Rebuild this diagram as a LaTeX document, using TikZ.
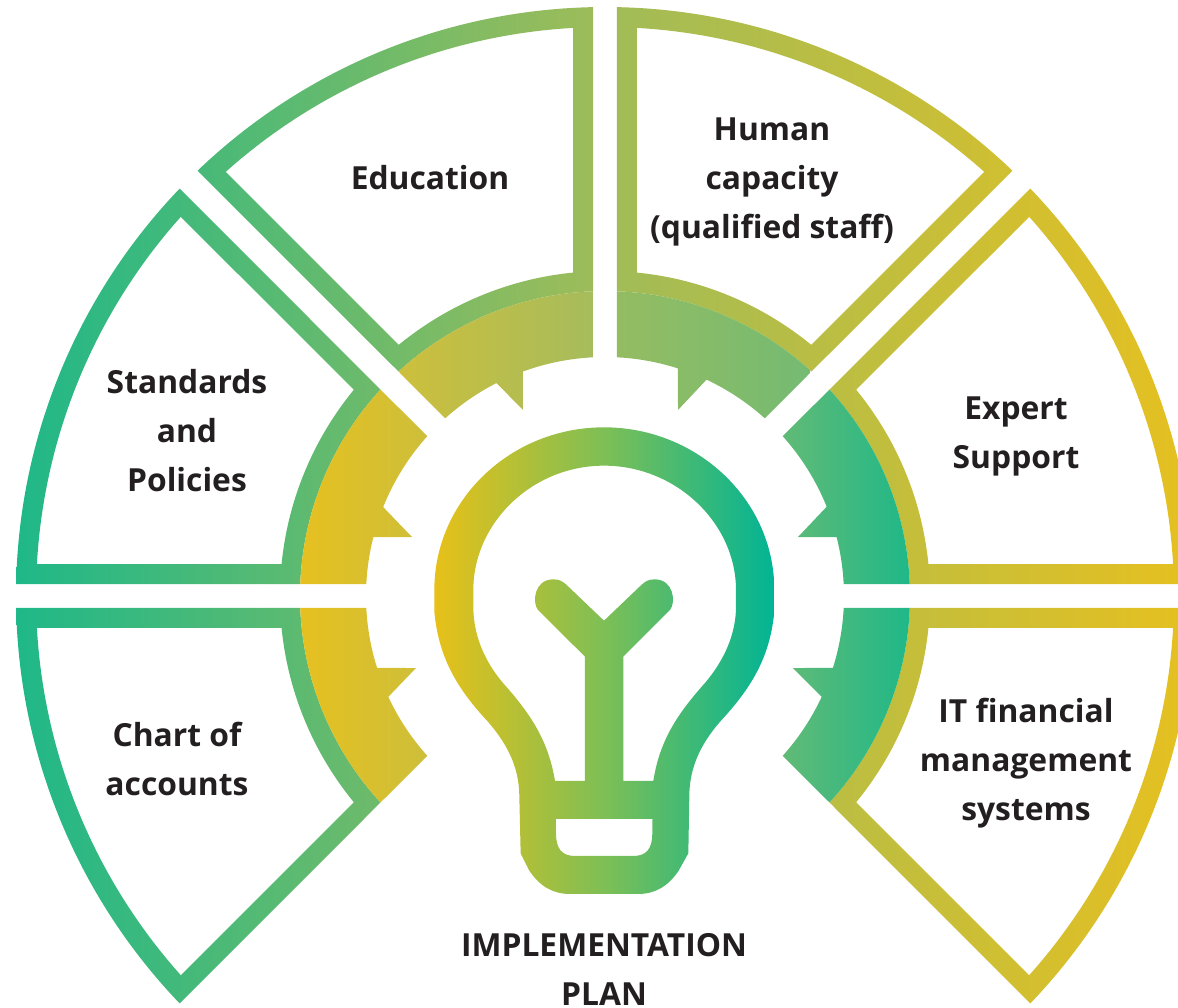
\documentclass[tikz,border=0pt]{standalone}
\usepackage{fontspec}
\setmainfont{Open Sans}
\definecolor{ink}{HTML}{231F20}
\definecolor{frameL}{HTML}{1FB888}
\definecolor{frameM}{HTML}{A0BC58}
\definecolor{frameR}{HTML}{E6C020}
\definecolor{wY}{HTML}{E6C020}
\definecolor{wA}{HTML}{CDBF3A}
\definecolor{wB}{HTML}{CDBF3C}
\definecolor{wC}{HTML}{A6BC5C}
\definecolor{wD}{HTML}{94BC62}
\definecolor{wE}{HTML}{74BB72}
\definecolor{wF}{HTML}{62BA76}
\definecolor{wG}{HTML}{1FB888}
\definecolor{bulbL}{HTML}{E8C018}
\definecolor{bulbM}{HTML}{7DBF56}
\definecolor{bulbR}{HTML}{00B496}
\tikzset{
  mirrordiag/.style={cm={0,1,1,0,(0,0)}},
  lbl/.style={font=\fontsize{31.8}{49}\selectfont\bfseries, text=ink, align=center, inner sep=0pt}
}
% one outlined sector: #1 = transform of the base sector beside the +x axis
\newcommand{\frameblock}[1]{%
  \begin{scope}[even odd rule]
    \pgfmathsetmacro\aa{asin(12/589)}
    \pgfmathsetmacro\ab{45-asin(18/(589*1.41421))}
    \pgfmathsetmacro\ac{45-asin(18/(305*1.41421))}
    \pgfmathsetmacro\ad{asin(12/305)}
    \pgfmathsetmacro\ba{asin(32/569)}
    \pgfmathsetmacro\bb{45-asin(45/(569*1.41421))}
    \pgfmathsetmacro\bc{45-asin(45/(325*1.41421))}
    \pgfmathsetmacro\bd{asin(32/325)}
    \clip[#1]
      (\aa:589) arc[start angle=\aa,end angle=\ab,radius=589]
      -- (\ac:305) arc[start angle=\ac,end angle=\ad,radius=305] -- cycle
      (\ba:569) arc[start angle=\ba,end angle=\bb,radius=569]
      -- (\bc:325) arc[start angle=\bc,end angle=\bd,radius=325] -- cycle;
    \shade[left color=frameL,right color=frameR,middle color=frameM]
      (-589,-420) rectangle (589,600);
  \end{scope}}
% gear piece: #1 transform, #2 tooth offset, #3 tip, #4/#5 notch start, #6/#7 x range, #8/#9 colours
\newcommand{\gearblock}[9]{%
  \begin{scope}
    \pgfmathsetmacro\aa{asin(12/305)}
    \pgfmathsetmacro\ab{45-asin(18/(305*1.41421))}
    \pgfmathsetmacro\ac{45-asin(18/(239*1.41421))}
    \pgfmathsetmacro\ad{atan2(#5,#4)}
    \pgfmathsetmacro\ae{asin(#2/239)}
    \pgfmathsetmacro\af{asin(12/239)}
    \clip[#1]
      (\aa:305) arc[start angle=\aa,end angle=\ab,radius=305]
      -- (\ac:239) arc[start angle=\ac,end angle=\ad,radius=239]
      -- (#3,#2) -- (\ae:239) arc[start angle=\ae,end angle=\af,radius=239] -- cycle;
    \shade[left color=#8,right color=#9] (#6,-420) rectangle (#7,600);
  \end{scope}}
\begin{document}
\begin{tikzpicture}[x=1pt,y=1pt]
\useasboundingbox (-605,-411) rectangle (573,596);
\frameblock{}
\frameblock{mirrordiag}
\frameblock{yscale=-1}
\frameblock{xscale=-1}
\frameblock{xscale=-1,yscale=-1}
\frameblock{xscale=-1,mirrordiag}
\gearblock{}{59}{193}{221}{89}{177}{305}{wF}{wG}
\gearblock{yscale=-1}{72}{188}{217}{101}{177}{305}{wF}{wG}
\gearblock{xscale=-1}{59}{193}{222}{89}{-305}{-177}{wY}{wA}
\gearblock{xscale=-1,yscale=-1}{72}{189}{217}{101}{-305}{-177}{wY}{wA}
\gearblock{mirrordiag}{73}{186}{211}{99}{12}{205}{wD}{wE}
\gearblock{xscale=-1,mirrordiag}{82}{186}{212}{108}{-207}{-12}{wB}{wC}
% bulb, drawn in a local frame
\begin{scope}[even odd rule]
  \clip[shift={(-185,176)},x=0.33333pt,y=-0.33333pt]
    (552,22) .. controls (272,22) and (43,240) .. (43,510) -- (43,575)
    .. controls (55,700) and (100,790) .. (190,890)
    .. controls (260,965) and (298,1040) .. (298,1130)
    -- (302,1300) -- (328,1352) .. controls (360,1400) and (400,1422) .. (450,1422)
    -- (654,1422) .. controls (704,1422) and (744,1400) .. (776,1352) -- (805,1300)
    -- (808,1130) .. controls (808,1040) and (844,965) .. (914,890)
    .. controls (1004,790) and (1051,700) .. (1063,575) -- (1063,510)
    .. controls (1063,240) and (832,22) .. (552,22) -- cycle
    (405,1083) .. controls (385,960) and (330,880) .. (250,790)
    .. controls (190,720) and (160,640) .. (160,560) -- (160,510)
    .. controls (160,310) and (335,137) .. (552,137)
    .. controls (769,137) and (948,310) .. (948,510) -- (948,560)
    .. controls (948,640) and (914,720) .. (854,790)
    .. controls (774,880) and (719,960) .. (700,1083)
    -- (610,1083) -- (610,710) -- (750,570)
    .. controls (768,548) and (762,478) .. (704,478)
    .. controls (685,478) and (675,485) .. (664,495)
    -- (552,602) -- (440,495)
    .. controls (429,485) and (419,478) .. (400,478)
    .. controls (342,478) and (336,548) .. (354,570)
    -- (495,710) -- (495,1083) -- cycle
    (408,1197) -- (697,1197) -- (697,1240)
    .. controls (697,1285) and (680,1308) .. (640,1308)
    -- (465,1308) .. controls (425,1308) and (408,1285) .. (408,1240) -- cycle;
  \shade[left color=bulbL,right color=bulbR,middle color=bulbM] (-171,-320) rectangle (171,180);
\end{scope}
\node[lbl] (education) at (-175,418) {Education};
\node[lbl] (human) at (167,414) {Human\\capacity\\(qualified staff)};
\node[lbl] (standards) at (-418,165) {Standards\\and\\Policies};
\node[lbl] (expert) at (411,160) {Expert\\Support};
\node[lbl] (chart) at (-428,-163) {Chart of\\accounts};
\node[lbl] (itfin) at (421,-167) {IT financial\\management\\systems};
\node[lbl] (plan) at (-1,-373.5) {IMPLEMENTATION\\PLAN};
\end{tikzpicture}
\end{document}
